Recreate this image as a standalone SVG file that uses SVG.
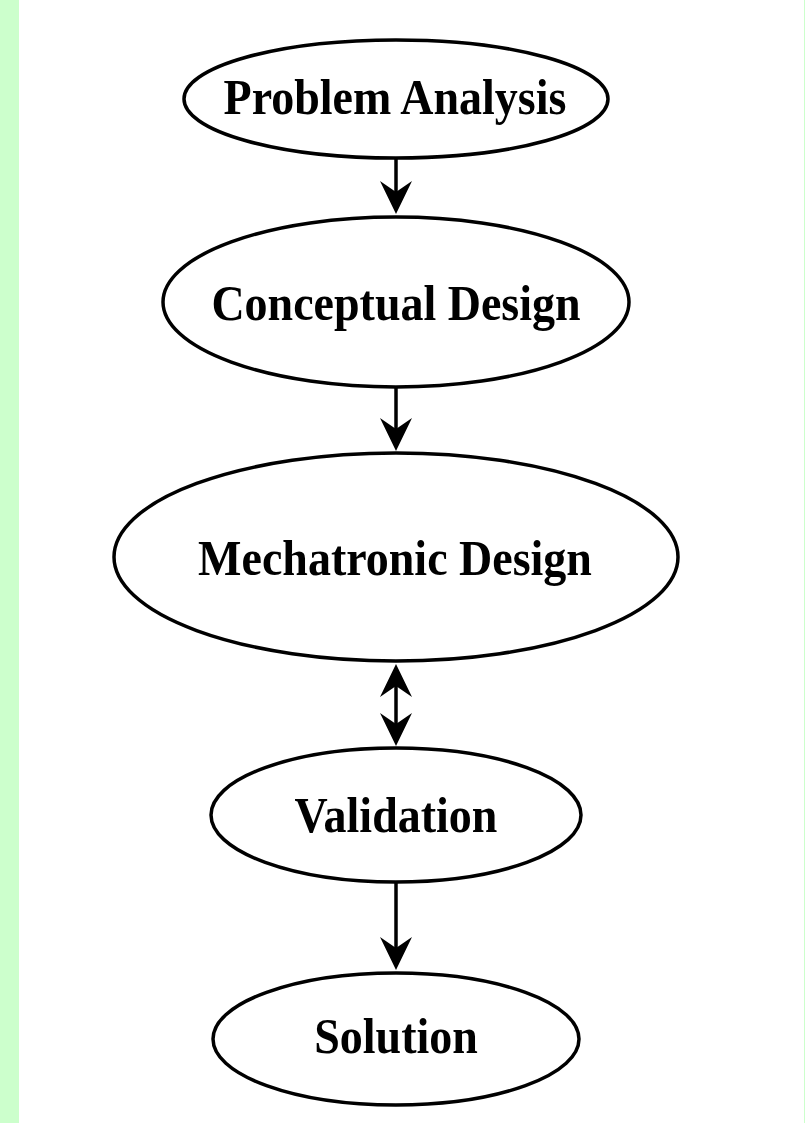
<svg xmlns="http://www.w3.org/2000/svg" width="805" height="1123" viewBox="0 0 805 1123">
<style>
.node ellipse{fill:#ffffff;stroke:#000000;stroke-width:3.5}
.node text{font-family:"Liberation Serif","Times New Roman",serif;font-weight:bold;font-size:46px;text-anchor:middle;fill:#000000}
.edge{stroke:#000000;stroke-width:3.5;fill:none}
</style>
<defs>
<marker id="ah" markerUnits="userSpaceOnUse" viewBox="-34 -17 35 34" refX="-10" refY="0" markerWidth="35" markerHeight="34" orient="auto-start-reverse">
<path d="M0,0 L-33,-16 L-22,0 L-33,16 Z" fill="#000000"/>
</marker>
</defs>
<rect x="0" y="0" width="805" height="1123" fill="#ccffcc"/>
<rect x="19" y="0" width="785" height="1123" fill="#ffffff"/>
<g id="connectors">
<line class="edge" x1="396" y1="159" x2="396" y2="204" marker-end="url(#ah)"/>
<line class="edge" x1="396" y1="387" x2="396" y2="441" marker-end="url(#ah)"/>
<line class="edge" x1="396" y1="674" x2="396" y2="736" marker-start="url(#ah)" marker-end="url(#ah)"/>
<line class="edge" x1="396" y1="882" x2="396" y2="960" marker-end="url(#ah)"/>
</g>
<g id="problem-analysis" class="node">
<ellipse cx="396" cy="99" rx="212" ry="59"/>
<text transform="translate(395,114) scale(1,1.1)">Problem Analysis</text>
</g>
<g id="conceptual-design" class="node">
<ellipse cx="396" cy="302" rx="233" ry="85"/>
<text transform="translate(396,320) scale(1,1.1)">Conceptual Design</text>
</g>
<g id="mechatronic-design" class="node">
<ellipse cx="396" cy="557" rx="282" ry="104"/>
<text transform="translate(395,575) scale(1,1.1)">Mechatronic Design</text>
</g>
<g id="validation" class="node">
<ellipse cx="396" cy="815" rx="185" ry="67"/>
<text transform="translate(396,832) scale(1,1.1)">Validation</text>
</g>
<g id="solution" class="node">
<ellipse cx="396" cy="1039" rx="183" ry="66"/>
<text transform="translate(396,1053) scale(1,1.1)">Solution</text>
</g>
</svg>
